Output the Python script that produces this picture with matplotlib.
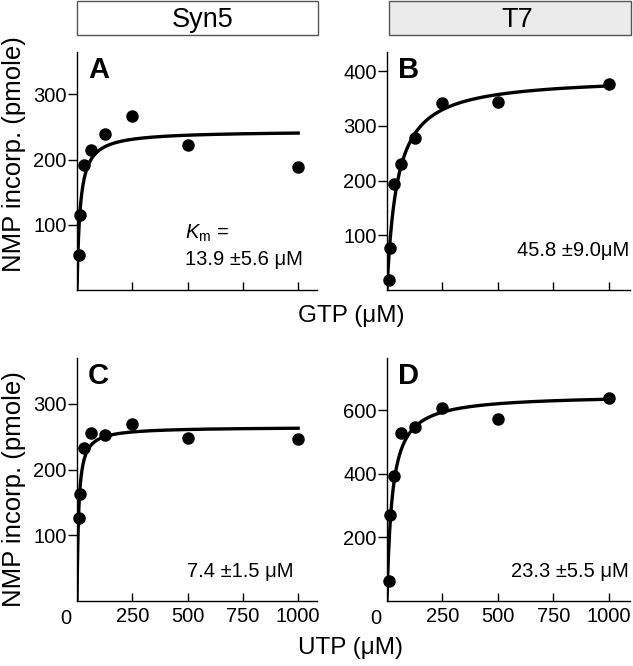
import numpy as np
import matplotlib
matplotlib.use("Agg")
import matplotlib.pyplot as plt
from matplotlib.patches import Rectangle

plt.rcParams['font.family'] = ['Liberation Sans', 'DejaVu Sans']
plt.rcParams['mathtext.fontset'] = 'custom'
plt.rcParams['mathtext.rm'] = 'Liberation Sans'
plt.rcParams['mathtext.it'] = 'Liberation Sans:italic'

# substrate concentrations (uM)
conc = [7.8, 15.6, 31.25, 62.5, 125, 250, 500, 1000]

# NMP incorporated (pmole)
syn5_gtp = [54, 115, 192, 215, 239, 267, 222, 188]
t7_gtp = [18, 76, 194, 230, 278, 341, 343, 376]
syn5_utp = [127, 163, 233, 256, 252, 270, 248, 246]
t7_utp = [63, 272, 392, 530, 547, 609, 572, 639]

# Michaelis-Menten fits: Km from the labels, Vmax read from the plateau
km = [13.9, 45.8, 7.4, 23.3]
vmax = [244, 390, 265, 650]
km_text = ["13.9 ±5.6 μM", "45.8 ±9.0μM", "7.4 ±1.5 μM", "23.3 ±5.5 μM"]

letters = ["A", "B", "C", "D"]
series = [syn5_gtp, t7_gtp, syn5_utp, t7_utp]
ylims = [(0, 365), (0, 435), (0, 370), (0, 765)]
yticks = [[100, 200, 300], [100, 200, 300, 400], [100, 200, 300], [200, 400, 600]]
xlims = [(0, 1085), (0, 1095), (0, 1085), (0, 1095)]

W, H = 633, 666
fig = plt.figure(figsize=(W / 100, H / 100), dpi=100)

def box(l, t, r, b):
    return [l / W, 1 - b / H, (r - l) / W, (b - t) / H]

rects = [box(77, 52, 317, 290), box(387, 52, 630, 290),
         box(77, 358, 317, 601), box(387, 358, 630, 601)]

xs = np.linspace(0, 1000, 600)
for i in range(4):
    ax = fig.add_axes(rects[i])
    ax.plot(xs, vmax[i] * xs / (km[i] + xs), color='black', lw=2.4, zorder=3)
    ax.plot(conc, series[i], 'o', color='black', ms=8, zorder=4, clip_on=False)
    ax.set_xlim(*xlims[i])
    ax.set_ylim(*ylims[i])
    for s in ['top', 'right']:
        ax.spines[s].set_visible(False)
    for s in ['left', 'bottom']:
        ax.spines[s].set_linewidth(1.0)
    ax.set_yticks(yticks[i])
    ax.tick_params(axis='y', direction='out', length=6.5, width=1, pad=1, labelsize=14.5)
    ax.tick_params(axis='x', direction='in', length=6, width=1, pad=4, labelsize=14.5)
    ax.set_xticks([250, 500, 750, 1000])
    if i < 2:
        ax.set_xticklabels([])
    else:
        ax.annotate('0', xy=(0, 0), xycoords=('data', 'axes fraction'),
                    xytext=(-8, -5.5), textcoords='offset points',
                    ha='center', va='top', fontsize=14.5)
    ax.text(0.045, 0.985, letters[i], transform=ax.transAxes, fontsize=21,
            fontweight='bold', ha='left', va='top')
    if i == 0:
        ax.text(0.45, 0.24, r'$K_{\mathrm{m}}$ =', transform=ax.transAxes,
                fontsize=14.5, ha='left', va='center')
        ax.text(0.45, 0.13, km_text[i], transform=ax.transAxes,
                fontsize=14.5, ha='left', va='center')
    elif i == 2:
        ax.text(0.46, 0.12, km_text[i], transform=ax.transAxes,
                fontsize=14.5, ha='left', va='center')
    else:
        ax.text(0.995, 0.12 if i == 3 else 0.165, km_text[i], transform=ax.transAxes,
                fontsize=14.5, ha='right', va='center')

# header boxes above each column
for (l, r, tx, label, fc) in [(77, 318, 203, 'Syn5', 'white'),
                              (389, 631, 517, 'T7', '#ebebeb')]:
    fig.patches.append(Rectangle((l / W, 1 - 35 / H), (r - l) / W, 34.3 / H,
                                 transform=fig.transFigure, facecolor=fc,
                                 edgecolor='#555555', lw=1.0))
    fig.text(tx / W, 1 - 26.7 / H, label, ha='center', va='baseline', fontsize=19.5)

fig.text(351 / W, 1 - 316 / H, 'GTP (μM)', ha='center', va='center', fontsize=17.5)
fig.text(351 / W, 1 - 648 / H, 'UTP (μM)', ha='center', va='center', fontsize=17.5)
fig.text(14 / W, 1 - 154 / H, 'NMP incorp. (pmole)', rotation=90, ha='center', va='center', fontsize=18.5)
fig.text(14 / W, 1 - 489 / H, 'NMP incorp. (pmole)', rotation=90, ha='center', va='center', fontsize=18.5)

fig.savefig('out.png', dpi=100)
